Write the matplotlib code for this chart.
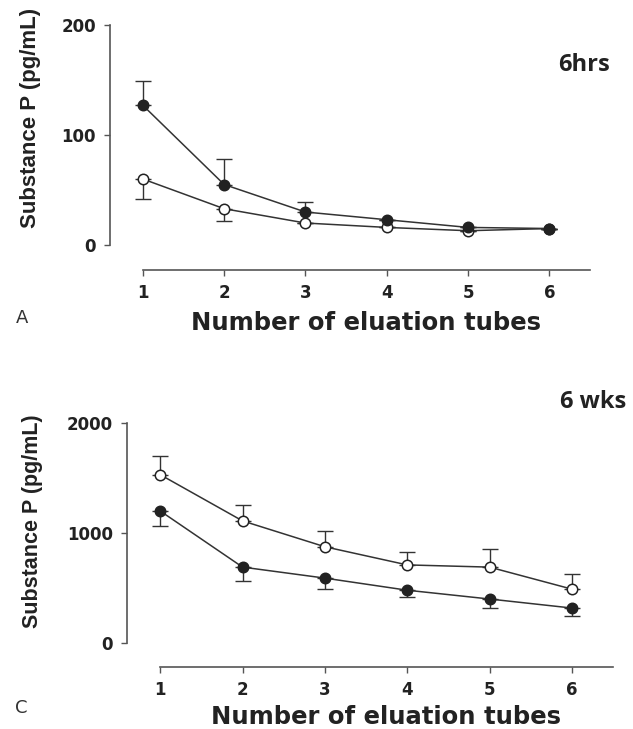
import matplotlib
matplotlib.use("Agg")
import matplotlib.pyplot as plt

tubes = [1, 2, 3, 4, 5, 6]

# Panel A (6hrs)
a_filled = [127, 55, 30, 23, 16, 15]
a_filled_err = [22, 23, 9, 0, 0, 0]
a_open = [60, 33, 20, 16, 13, 15]
a_open_err = [18, 11, 0, 0, 0, 0]

# Panel C (6 wks)
c_open = [1530, 1110, 875, 710, 690, 490]
c_open_err = [170, 145, 145, 120, 165, 135]
c_filled = [1200, 690, 590, 480, 400, 318]
c_filled_err = [135, 125, 100, 65, 80, 72]

W, H = 633, 729
fig = plt.figure(figsize=(W / 100, H / 100), dpi=100)
ink = "#222222"


def px(x, y):
    return x / W, 1 - y / H


def style(ax, ylim, yticks, ytop):
    ax.set_xlim(0.596, 6.5)
    ax.set_ylim(*ylim)
    ax.spines["top"].set_visible(False)
    ax.spines["right"].set_visible(False)
    ax.spines["left"].set_bounds(0, ytop)
    ax.spines["bottom"].set_bounds(1, 6.5)
    for s in ("left", "bottom"):
        ax.spines[s].set_color("#555555")
        ax.spines[s].set_linewidth(1.2)
    ax.set_xticks(tubes)
    ax.set_yticks(yticks)
    ax.tick_params(direction="out", length=4, width=1, colors="#555555",
                   labelcolor=ink, labelsize=12, pad=6)
    for lab in ax.get_xticklabels() + ax.get_yticklabels():
        lab.set_fontweight("bold")
        lab.set_family("DejaVu Sans")


def series(ax, y, err, up, filled):
    lower = [0] * len(err) if up else err
    upper = err if up else [0] * len(err)
    ax.errorbar(tubes, y, yerr=[lower, upper], fmt="none", ecolor="#333333",
                elinewidth=1, capsize=5.5, capthick=1, zorder=2)
    ax.plot(tubes, y, color="#333333", lw=1.1, marker="o", ms=7.5,
            mfc=ink if filled else "white", mec=ink, mew=1.1, zorder=3)


# Panel A
ax1 = fig.add_axes([110 / W, 1 - 270 / H, 480 / W, 245 / H])
style(ax1, (-22.7, 200), [0, 100, 200], 200)
series(ax1, a_open, a_open_err, False, False)
series(ax1, a_filled, a_filled_err, True, True)
fig.text(*px(31, 118), "Substance P (pg/mL)", rotation=90, ha="center", va="center",
         fontsize=16, family="Liberation Sans", weight="bold", color=ink)
fig.text(*px(366, 323), "Number of eluation tubes", ha="center", va="center",
         fontsize=17.5, family="DejaVu Sans", weight="bold", color=ink)
fig.text(*px(584, 65), "6hrs", ha="center", va="center", fontsize=17,
         family="Open Sans", weight="bold", color=ink)
fig.text(*px(22, 318), "A", ha="center", va="center", fontsize=13,
         family="DejaVu Sans", color="#333333")

# Panel C
ax2 = fig.add_axes([127 / W, 1 - 667 / H, 486 / W, 244 / H])
style(ax2, (-218, 2000), [0, 1000, 2000], 2000)
series(ax2, c_open, c_open_err, True, False)
series(ax2, c_filled, c_filled_err, False, True)
fig.text(*px(33, 521), "Substance P (pg/mL)", rotation=90, ha="center", va="center",
         fontsize=15.5, family="Liberation Sans", weight="bold", color=ink)
fig.text(*px(386, 717), "Number of eluation tubes", ha="center", va="center",
         fontsize=17.5, family="DejaVu Sans", weight="bold", color=ink)
fig.text(*px(593, 402), "6 wks", ha="center", va="center", fontsize=17,
         family="Open Sans", weight="bold", color=ink)
fig.text(*px(21, 708), "C", ha="center", va="center", fontsize=13,
         family="DejaVu Sans", color="#333333")

fig.savefig("out.png", dpi=100)
